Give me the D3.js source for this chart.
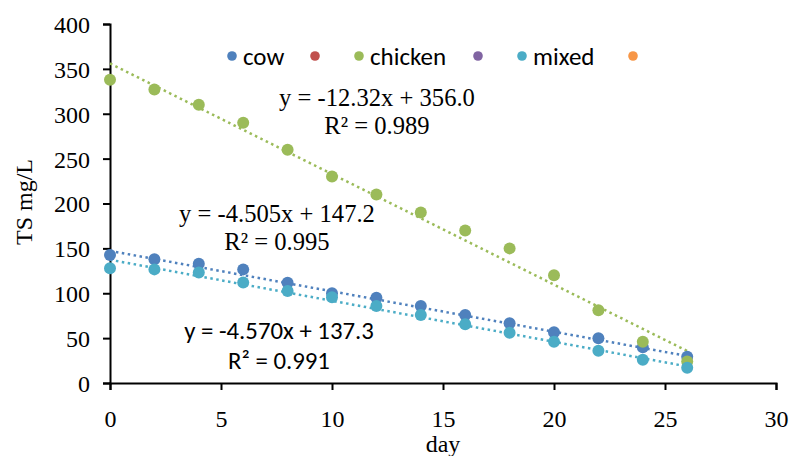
<!DOCTYPE html>
<html><head><meta charset="utf-8">
<script src="https://cdn.jsdelivr.net/npm/d3@7"></script>
<style>body{margin:0;background:#fff}svg{display:block}</style>
</head><body><svg id="c" width="792" height="456"></svg>
<script>
const days = [0,2,4,6,8,10,12,14,16,18,20,22,24,26];
const cow = [142.5,137.8,133,126.6,111.8,100,95,85.8,75.8,66.5,56.5,49.8,39.8,29.3];
const chicken = [338,327,310,290,260,230,210,190,170,150,120,81,46,24];
const mixed = [127.8,126.6,123,112,102.5,95.5,85.8,75.8,65.4,56,46,36,26,17];
const xTicks = [0,5,10,15,20,25,30];
const yTicks = [0,50,100,150,200,250,300,350,400];
const legendNames = ["cow","","chicken","","mixed",""];
const legendColors = ["#4F81BD","#C0504D","#9BBB59","#8064A2","#4BACC6","#F79646"];
const trendSlopes = [-4.505,-12.32,-4.570];
const trendIntercepts = [147.2,356.0,137.3];
const eqLabels = ["y = -4.505x + 147.2","y = -12.32x + 356.0","y = -4.570x + 137.3"];
const r2Labels = ["R² = 0.995","R² = 0.989","R² = 0.991"];

const svg = d3.select("#c");
const x = d3.scaleLinear().domain([0,30]).range([110,776]);
const y = d3.scaleLinear().domain([0,400]).range([383,24]);
const serif = "'Liberation Serif','Times New Roman',serif";
const sans = "Carlito,'Open Sans','Liberation Sans',sans-serif";

const series = [
  {vals:cow,color:"#4F81BD",i:0},
  {vals:chicken,color:"#9BBB59",i:1},
  {vals:mixed,color:"#4BACC6",i:2}
];

// axes
const xa = svg.append("g").attr("transform","translate(0,383)")
  .call(d3.axisBottom(x).tickValues(xTicks).tickSizeOuter(0).tickSize(7));
const ya = svg.append("g").attr("transform","translate(110,0)")
  .call(d3.axisLeft(y).tickValues(yTicks).tickSizeOuter(0).tickSize(7).tickPadding(13));
[xa,ya].forEach(a=>{
  a.selectAll("path,line").attr("stroke","#000").attr("stroke-width",2);
  a.selectAll("text").attr("font-family",serif).attr("font-size",24).attr("fill","#000");
});
xa.selectAll("text").attr("y",36).attr("dy","0.35em");
ya.selectAll("text").attr("dy","0.35em");

svg.append("text").attr("x",443).attr("y",452).attr("text-anchor","middle")
  .attr("font-family",serif).attr("font-size",24).text("day");
svg.append("text").attr("transform","translate(32,202) rotate(-90)").attr("text-anchor","middle")
  .attr("font-family",serif).attr("font-size",24).text("TS mg/L");

// trendlines
series.forEach(s=>{
  svg.append("line")
    .attr("x1",x(days[0])).attr("y1",y(trendIntercepts[s.i]+trendSlopes[s.i]*days[0]))
    .attr("x2",x(days[days.length-1])).attr("y2",y(trendIntercepts[s.i]+trendSlopes[s.i]*days[days.length-1]))
    .attr("stroke",s.color).attr("stroke-width",2.5).attr("stroke-dasharray","2.5,3.5");
});
// points
series.forEach(s=>{
  svg.append("g").selectAll("circle").data(s.vals).join("circle")
    .attr("cx",(d,i)=>x(days[i])).attr("cy",d=>y(d)).attr("r",6).attr("fill",s.color);
});

// legend
const legX = [232,315,359,478,522,633];
legendNames.forEach((n,i)=>{
  svg.append("circle").attr("cx",legX[i]).attr("cy",56).attr("r",4.8).attr("fill",legendColors[i]);
  if(n) svg.append("text").attr("x",legX[i]+11).attr("y",56).attr("dy","0.35em")
    .attr("font-family",sans).attr("font-size",25).text(n);
});

// equation labels
const eqPos = [[277,213,241,serif,24.6],[377,97,125,serif,24.6],[279,330,360,sans,24.8]];
eqPos.forEach((p,i)=>{
  svg.append("text").attr("x",p[0]).attr("y",p[1]).attr("dy","0.35em").attr("text-anchor","middle")
    .attr("font-family",p[3]).attr("font-size",p[4]).text(eqLabels[i]);
  svg.append("text").attr("x",p[0]).attr("y",p[2]).attr("dy","0.35em").attr("text-anchor","middle")
    .attr("font-family",p[3]).attr("font-size",p[4]).text(r2Labels[i]);
});
</script></body></html>
